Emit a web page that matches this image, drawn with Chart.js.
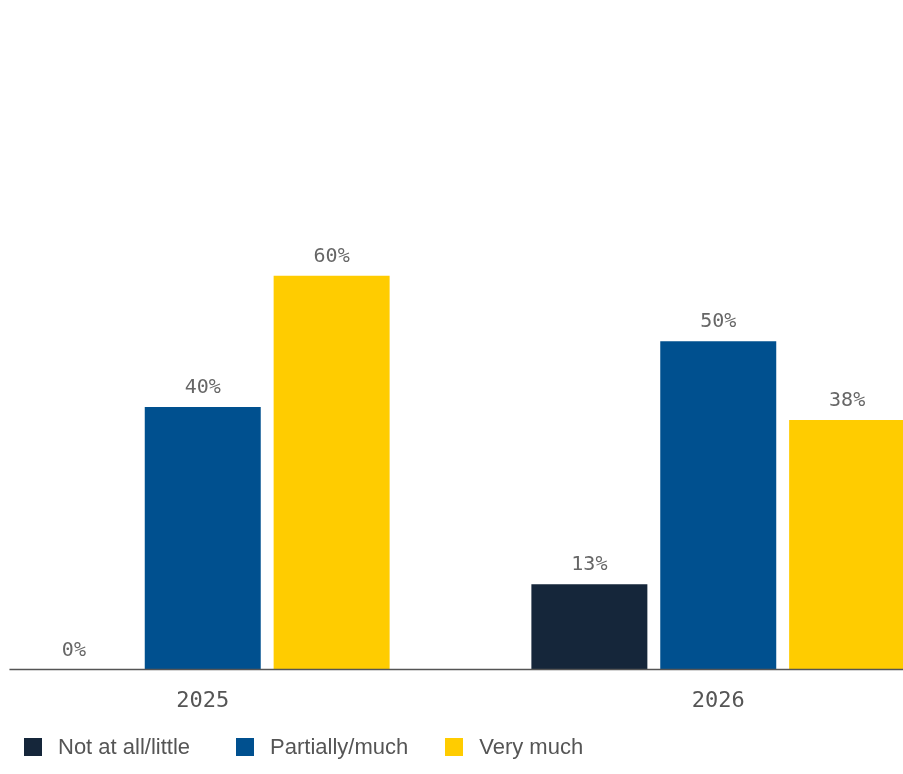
<!DOCTYPE html>
<html>
<head>
<meta charset="utf-8">
<script src="https://cdn.jsdelivr.net/npm/chart.js@4"></script>
<style>
  html, body { margin: 0; padding: 0; background: #fff; overflow: hidden; }
  body { width: 903px; height: 774px; position: relative; }
  .wrap { position: absolute; left: -55px; top: 0; width: 1031px; height: 739px; }
  .legend { position: absolute; left: 24px; top: 734px; display: flex; align-items: center;
            font-family: "Liberation Sans", Arial, sans-serif; font-size: 22px; color: #555; }
  .legend span.item { display: flex; align-items: center; margin-right: 46px; }
  .legend span.item:nth-child(2) { margin-right: 37px; }
  .legend span.box { width: 18px; height: 18px; margin-right: 16px; display: inline-block; }
</style>
</head>
<body>
<div class="wrap"><canvas class="bars"></canvas></div>
<div class="legend"></div>
<script>
const years = ['2025', '2026'];
const notAtAll = [0, 13];
const partially = [40, 50];
const veryMuch = [60, 38];
const seriesNames = ['Not at all/little', 'Partially/much', 'Very much'];
const colors = ['#15263a', '#00508f', '#ffcc00'];

const catPct = 0.75;

// value text over each bar
const valueLabels = {
  id: 'valueLabels',
  afterDatasetsDraw(chart) {
    const ctx = chart.ctx;
    ctx.save();
    ctx.font = '20px "DejaVu Sans Mono", monospace';
    ctx.fillStyle = '#666';
    ctx.textAlign = 'center';
    ctx.textBaseline = 'alphabetic';
    chart.data.datasets.forEach((ds, i) => {
      chart.getDatasetMeta(i).data.forEach((bar, j) => {
        ctx.fillText(ds.data[j] + '%', bar.x, bar.y - 14);
      });
    });
    ctx.restore();
  }
};

// baseline starting at the left edge of the first group
const baseline = {
  id: 'baseline',
  afterDatasetsDraw(chart) {
    const x = chart.scales.x, y = chart.scales.y;
    const half = x.width / years.length * catPct / 2;
    const left = x.getPixelForValue(0) - half;
    const py = y.getPixelForValue(0);
    const ctx = chart.ctx;
    ctx.save();
    ctx.strokeStyle = '#555';
    ctx.lineWidth = 1.5;
    ctx.beginPath();
    ctx.moveTo(left, py);
    ctx.lineTo(chart.chartArea.right, py);
    ctx.stroke();
    ctx.restore();
  }
};

const ctx = document.querySelector('.bars').getContext('2d');
const chart = new Chart(ctx, {
  type: 'bar',
  data: {
    labels: years,
    datasets: [notAtAll, partially, veryMuch].map((d, i) => ({
      label: seriesNames[i],
      data: d,
      backgroundColor: colors[i],
      borderWidth: 0,
      categoryPercentage: catPct,
      barPercentage: 0.9
    }))
  },
  options: {
    responsive: true,
    maintainAspectRatio: false,
    animation: false,
    layout: { padding: { top: 13, bottom: 7, left: 0, right: 0 } },
    plugins: {
      legend: { display: false },
      tooltip: { enabled: false }
    },
    scales: {
      x: {
        grid: { display: false, drawTicks: false },
        border: { display: false },
        ticks: {
          padding: 18,
          color: '#555',
          font: { family: '"DejaVu Sans Mono", monospace', size: 22 }
        }
      },
      y: {
        display: false,
        min: 0,
        max: 100
      }
    }
  },
  plugins: [valueLabels, baseline]
});

// legend row under the chart
const legend = document.querySelector('.legend');
seriesNames.forEach((name, i) => {
  const item = document.createElement('span');
  item.className = 'item';
  const box = document.createElement('span');
  box.className = 'box';
  box.style.background = colors[i];
  item.appendChild(box);
  item.appendChild(document.createTextNode(name));
  legend.appendChild(item);
});
</script>
</body>
</html>
